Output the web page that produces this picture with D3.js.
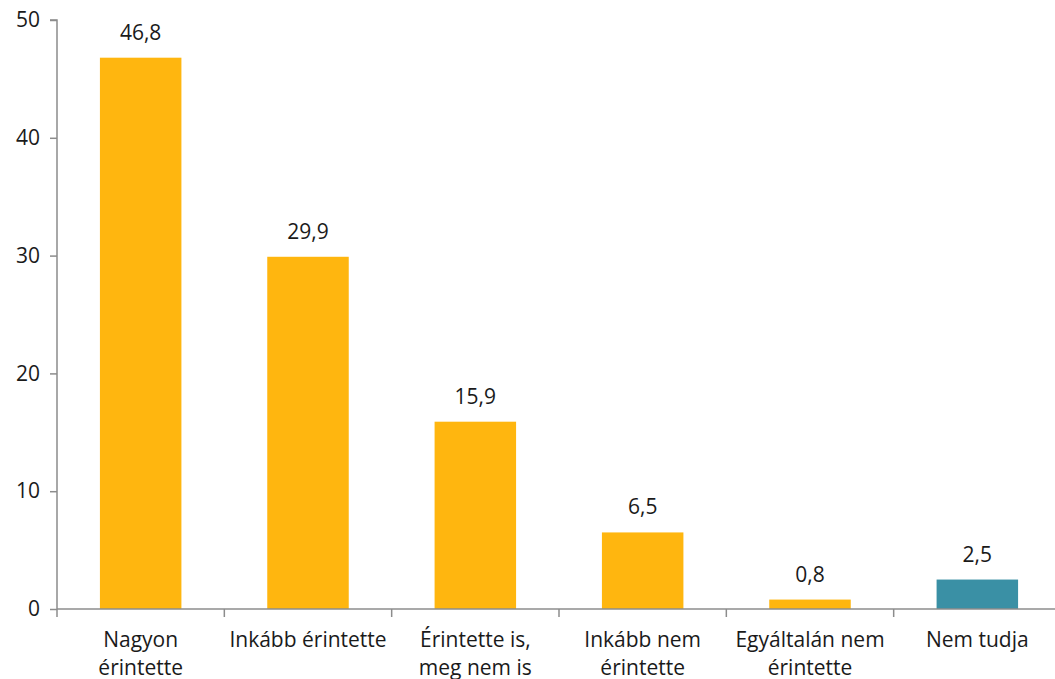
<!DOCTYPE html>
<html><head><meta charset="utf-8">
<script src="https://cdn.jsdelivr.net/npm/d3@7"></script>
<style>
html,body{margin:0;padding:0;background:#fff;}
svg{display:block;font-family:"Open Sans",sans-serif;}
</style></head>
<body><svg id="chart" width="1055" height="679"></svg>
<script>
const categories = ["Nagyon érintette","Inkább érintette","Érintette is, meg nem is","Inkább nem érintette","Egyáltalán nem érintette","Nem tudja"];
const categoryLines = [["Nagyon","érintette"],["Inkább érintette"],["Érintette is,","meg nem is"],["Inkább nem","érintette"],["Egyáltalán nem","érintette"],["Nem tudja"]];
const values = [46.8, 29.9, 15.9, 6.5, 0.8, 2.5];
const valueLabels = ["46,8","29,9","15,9","6,5","0,8","2,5"];
const barColors = ["#FFB60F","#FFB60F","#FFB60F","#FFB60F","#FFB60F","#3A90A5"];
const yTicks = [0,10,20,30,40,50];

const svg = d3.select("#chart");
const FS = 21;
const x0 = 57, x1 = 1061, yTop = 20, yBot = 609;
const x = d3.scaleBand().domain(categories).range([x0,x1]).paddingInner(0.513).paddingOuter(0.2565);
const y = d3.scaleLinear().domain([0,50]).range([yBot,yTop]);
const axisColor = "#8c8c8c";

// bars
svg.selectAll("rect.bar").data(categories).enter().append("rect")
  .attr("x", d=>x(d)).attr("width", x.bandwidth())
  .attr("y", (d,i)=>y(values[i])).attr("height",(d,i)=>y(0)-y(values[i]))
  .attr("fill",(d,i)=>barColors[i]);

// value labels
svg.selectAll("text.val").data(categories).enter().append("text")
  .attr("x", d=>x(d)+x.bandwidth()/2).attr("y",(d,i)=>y(values[i])-18)
  .attr("text-anchor","middle").attr("font-size",FS).attr("fill","#1a1a1a")
  .text((d,i)=>valueLabels[i]);

// y axis
const yAxis = d3.axisLeft(y).tickValues(yTicks).tickSize(7).tickPadding(10).tickFormat(d3.format("d"));
const gy = svg.append("g").attr("transform",`translate(${x0},0)`).call(yAxis);
gy.select(".domain").attr("stroke",axisColor).attr("stroke-width",1.5).attr("d",`M-7,${yTop}H0V${yBot}`);
gy.selectAll(".tick line").attr("stroke",axisColor).attr("stroke-width",1.5);
gy.selectAll(".tick text").attr("font-size",FS).attr("fill","#1a1a1a").attr("font-family","Open Sans");

// x axis
const xAxis = d3.axisBottom(x).tickSize(0).tickFormat("");
const gx = svg.append("g").attr("transform",`translate(0,${yBot})`).call(xAxis);
gx.select(".domain").attr("stroke",axisColor).attr("stroke-width",1.5).attr("d",`M${x0},0H${x1}`);
// category boundary ticks
const bounds = d3.range(categories.length+1).map(i=>x0 + i*x.step());
gx.selectAll("line.sep").data(bounds).enter().append("line")
  .attr("x1",d=>d).attr("x2",d=>d).attr("y1",0).attr("y2",8)
  .attr("stroke",axisColor).attr("stroke-width",1.5);

// category labels
const lab = svg.selectAll("text.cat").data(categories).enter().append("text")
  .attr("text-anchor","middle").attr("font-size",FS).attr("fill","#1a1a1a")
  .attr("transform",d=>`translate(${x(d)+x.bandwidth()/2},${yBot+38})`);
lab.each(function(d,i){
  const t = d3.select(this);
  categoryLines[i].forEach((ln,j)=>{
    t.append("tspan").attr("x",0).attr("y",j*28).text(ln);
  });
});
</script></body></html>
